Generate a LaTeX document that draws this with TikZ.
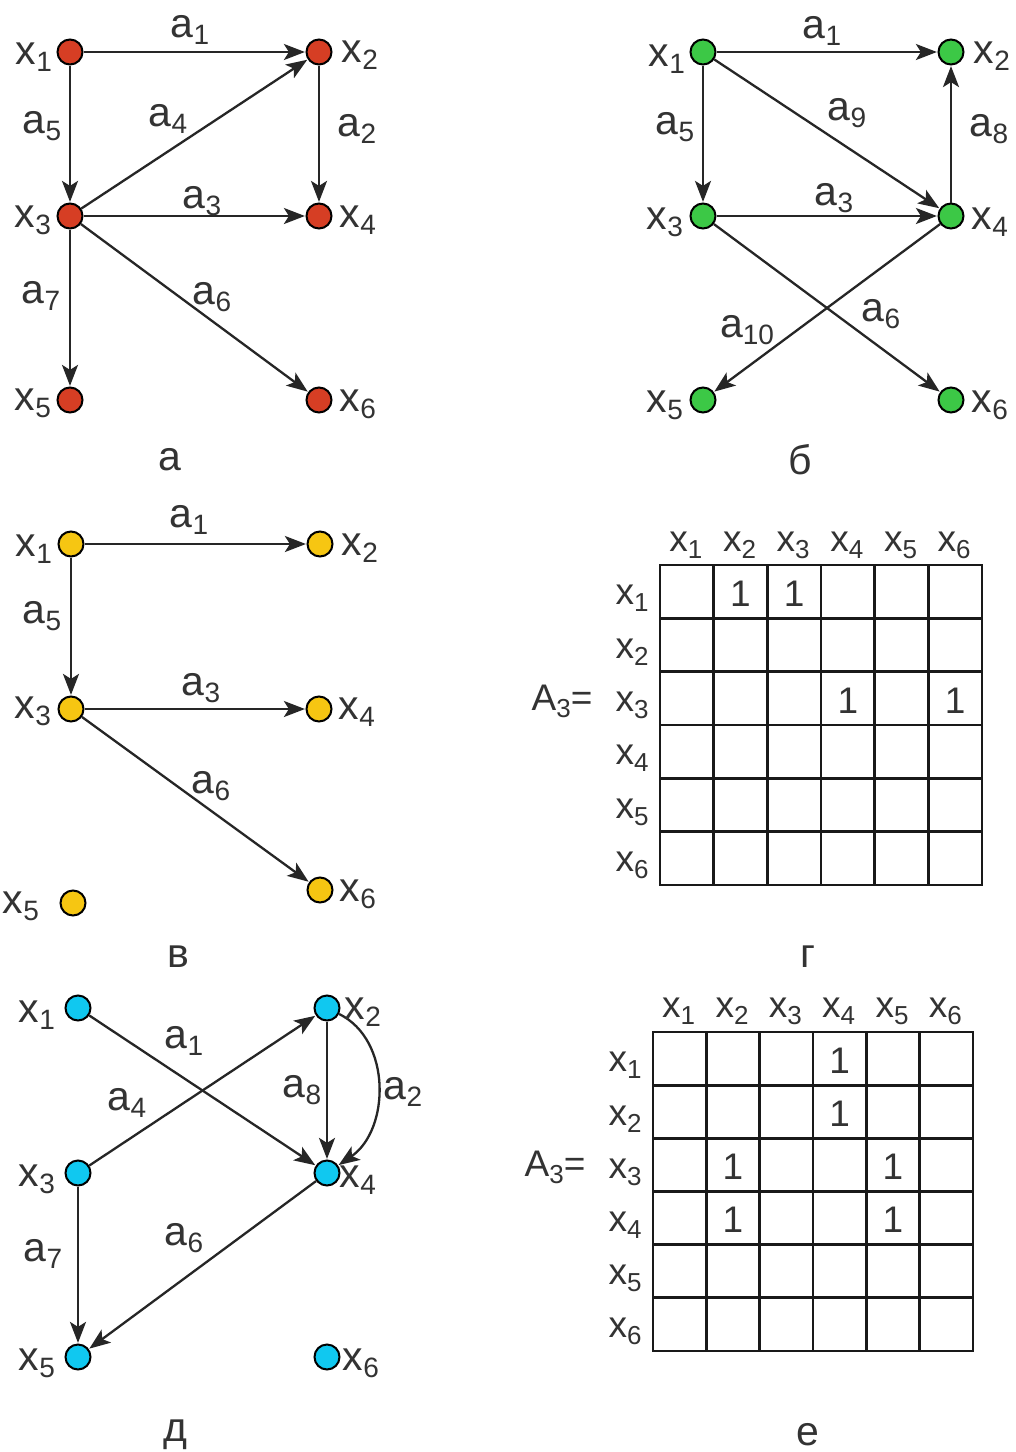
\documentclass[tikz,border=0pt]{standalone}
\usepackage{fontspec}
\setmainfont{Liberation Sans}
\usetikzlibrary{arrows.meta}
\definecolor{cred}{RGB}{214,62,36}
\definecolor{cgreen}{RGB}{60,200,70}
\definecolor{cyel}{RGB}{246,198,18}
\definecolor{ccyan}{RGB}{16,200,240}
\newcommand{\sbl}[2]{#1\raisebox{-3.5pt}{\fontsize{14}{14}\selectfont #2}}
\newcommand{\sbm}[2]{#1\raisebox{-3.5pt}{\fontsize{13}{13}\selectfont #2}}
\tikzset{
  vtx/.style={circle,draw=black,line width=1pt,minimum size=12.5pt,inner sep=0pt},
  arr/.style={line width=1.15pt,draw={black!85},-{Stealth[length=10.5pt,width=8pt,inset=2.5pt]},shorten >=0.3pt},
  lbl/.style={inner sep=0pt,font=\fontsize{20.5}{22}\selectfont,text={black!80}},
  mlbl/.style={inner sep=0pt,font=\fontsize{18.5}{20}\selectfont,text={black!80}},
  captxt/.style={inner sep=0pt,font=\fontsize{20.5}{22}\selectfont,text={black!80}},
  gridln/.style={line width=1.4pt,draw={black!90}}
}
\begin{document}
\begin{tikzpicture}[x=0.5pt,y=-0.5pt]
\useasboundingbox[fill=white] (0,0) rectangle (1016,1452);

% ---------- panel a ----------
\node[vtx,fill=cred] (a1) at (70,52) {};
\node[vtx,fill=cred] (a2) at (319,52) {};
\node[vtx,fill=cred] (a3) at (70,216) {};
\node[vtx,fill=cred] (a4) at (319,216) {};
\node[vtx,fill=cred] (a5) at (70,400) {};
\node[vtx,fill=cred] (a6) at (319,400) {};
\draw[arr] (a1) -- (a2);
\draw[arr] (a1) -- (a3);
\draw[arr] (a3) -- (a2);
\draw[arr] (a2) -- (a4);
\draw[arr] (a3) -- (a4);
\draw[arr] (a3) -- (a5);
\draw[arr] (a3) -- (a6);
\node[lbl] (la1) at (34,57) {\sbl{x}{1}};
\node[lbl] (la2) at (360,55) {\sbl{x}{2}};
\node[lbl] (la3) at (33,220) {\sbl{x}{3}};
\node[lbl] (la4) at (358,220) {\sbl{x}{4}};
\node[lbl] (la5) at (33,403) {\sbl{x}{5}};
\node[lbl] (la6) at (358,404) {\sbl{x}{6}};
\node[lbl] (ea1) at (190,30) {\sbl{a}{1}};
\node[lbl] (ea5) at (42,126) {\sbl{a}{5}};
\node[lbl] (ea4) at (168,119) {\sbl{a}{4}};
\node[lbl] (ea2) at (357,129) {\sbl{a}{2}};
\node[lbl] (ea3) at (202,201) {\sbl{a}{3}};
\node[lbl] (ea7) at (41,296) {\sbl{a}{7}};
\node[lbl] (ea6) at (212,297) {\sbl{a}{6}};
\node[captxt] (capa) at (170,460) {а};

% ---------- panel b ----------
\node[vtx,fill=cgreen] (b1) at (703,52) {};
\node[vtx,fill=cgreen] (b2) at (951,52) {};
\node[vtx,fill=cgreen] (b3) at (703,216) {};
\node[vtx,fill=cgreen] (b4) at (951,216) {};
\node[vtx,fill=cgreen] (b5) at (703,400) {};
\node[vtx,fill=cgreen] (b6) at (951,400) {};
\draw[arr] (b1) -- (b2);
\draw[arr] (b1) -- (b3);
\draw[arr] (b1) -- (b4);
\draw[arr] (b3) -- (b4);
\draw[arr] (b4) -- (b2);
\draw[arr] (b3) -- (b6);
\draw[arr] (b4) -- (b5);
\node[lbl] (lb1) at (667,59) {\sbl{x}{1}};
\node[lbl] (lb2) at (992,56) {\sbl{x}{2}};
\node[lbl] (lb3) at (665,222) {\sbl{x}{3}};
\node[lbl] (lb4) at (990,222) {\sbl{x}{4}};
\node[lbl] (lb5) at (665,405) {\sbl{x}{5}};
\node[lbl] (lb6) at (990,405) {\sbl{x}{6}};
\node[lbl] (eb1) at (822,31) {\sbl{a}{1}};
\node[lbl] (eb9) at (847,113) {\sbl{a}{9}};
\node[lbl] (eb5) at (675,127) {\sbl{a}{5}};
\node[lbl] (eb8) at (989,129) {\sbl{a}{8}};
\node[lbl] (eb3) at (834,198) {\sbl{a}{3}};
\node[lbl] (eb10) at (747,330) {\sbl{a}{10}};
\node[lbl] (eb6) at (881,314) {\sbl{a}{6}};
\node[captxt] (capb) at (800,460) {б};

% ---------- panel v ----------
\node[vtx,fill=cyel] (c1) at (71,544) {};
\node[vtx,fill=cyel] (c2) at (320,544) {};
\node[vtx,fill=cyel] (c3) at (71,709) {};
\node[vtx,fill=cyel] (c4) at (319,709) {};
\node[vtx,fill=cyel] (c5) at (73,903) {};
\node[vtx,fill=cyel] (c6) at (320,890) {};
\draw[arr] (c1) -- (c2);
\draw[arr] (c1) -- (c3);
\draw[arr] (c3) -- (c4);
\draw[arr] (c3) -- (c6);
\node[lbl] (lc1) at (34,549) {\sbl{x}{1}};
\node[lbl] (lc2) at (360,548) {\sbl{x}{2}};
\node[lbl] (lc3) at (33,711) {\sbl{x}{3}};
\node[lbl] (lc4) at (357,712) {\sbl{x}{4}};
\node[lbl] (lc5) at (21,906) {\sbl{x}{5}};
\node[lbl] (lc6) at (358,894) {\sbl{x}{6}};
\node[lbl] (ec1) at (189,520) {\sbl{a}{1}};
\node[lbl] (ec5) at (42,616) {\sbl{a}{5}};
\node[lbl] (ec3) at (201,688) {\sbl{a}{3}};
\node[lbl] (ec6) at (211,786) {\sbl{a}{6}};
\node[captxt] (capc) at (178,957) {в};

% ---------- panel d ----------
\node[vtx,fill=ccyan] (d1) at (78,1008) {};
\node[vtx,fill=ccyan] (d2) at (327,1008) {};
\node[vtx,fill=ccyan] (d3) at (78,1173) {};
\node[vtx,fill=ccyan] (d4) at (327,1173) {};
\node[vtx,fill=ccyan] (d5) at (78,1357) {};
\node[vtx,fill=ccyan] (d6) at (327,1357) {};
\draw[arr] (d1) -- (d4);
\draw[arr] (d3) -- (d2);
\draw[arr] (d2) -- (d4);
\draw[arr] (d2) .. controls (392,1040) and (390,1130) .. (d4);
\draw[arr] (d3) -- (d5);
\draw[arr] (d4) -- (d5);
\node[lbl] (ld1) at (37,1015) {\sbl{x}{1}};
\node[lbl] (ld2) at (363,1012) {\sbl{x}{2}};
\node[lbl] (ld3) at (37,1179) {\sbl{x}{3}};
\node[lbl] (ld4) at (358,1180) {\sbl{x}{4}};
\node[lbl] (ld5) at (37,1363) {\sbl{x}{5}};
\node[lbl] (ld6) at (361,1363) {\sbl{x}{6}};
\node[lbl] (ed1) at (184,1041) {\sbl{a}{1}};
\node[lbl] (ed4) at (127,1103) {\sbl{a}{4}};
\node[lbl] (ed8) at (302,1090) {\sbl{a}{8}};
\node[lbl] (ed2) at (403,1092) {\sbl{a}{2}};
\node[lbl] (ed7) at (43,1254) {\sbl{a}{7}};
\node[lbl] (ed6) at (184,1238) {\sbl{a}{6}};
\node[captxt] (capd) at (175,1435) {д};

% ---------- matrix g ----------
\draw[gridln] (660,565) rectangle (982,885);
\foreach \i in {1,...,5} {
  \draw[gridln] ({660+\i*322/6},565) -- ({660+\i*322/6},885);
  \draw[gridln] (660,{565+\i*320/6}) -- (982,{565+\i*320/6});
}
\foreach \i in {1,...,6} {
  \node[mlbl] (gh\i) at ({660+(\i-0.5)*322/6-1},545) {\sbm{x}{\i}};
  \node[mlbl] (gr\i) at (632,{565+(\i-0.5)*320/6+7}) {\sbm{x}{\i}};
}
\node[mlbl] (gA) at (562,701) {\sbm{A}{3}=};
\foreach \r/\c in {1/2,1/3,3/4,3/6} {
  \node[mlbl] (g\r\c) at ({660+(\c-0.5)*322/6},{565+(\r-0.5)*320/6+2}) {1};
}
\node[captxt] (capg) at (808,957) {г};

% ---------- matrix e ----------
\draw[gridln] (653,1032) rectangle (973,1351);
\foreach \i in {1,...,5} {
  \draw[gridln] ({653+\i*320/6},1032) -- ({653+\i*320/6},1351);
  \draw[gridln] (653,{1032+\i*319/6}) -- (973,{1032+\i*319/6});
}
\foreach \i in {1,...,6} {
  \node[mlbl] (eh\i) at ({653+(\i-0.5)*320/6-1},1011) {\sbm{x}{\i}};
  \node[mlbl] (er\i) at (625,{1032+(\i-0.5)*319/6+7}) {\sbm{x}{\i}};
}
\node[mlbl] (eA) at (555,1167) {\sbm{A}{3}=};
\foreach \r/\c in {1/4,2/4,3/2,3/5,4/2,4/5} {
  \node[mlbl] (e\r\c) at ({653+(\c-0.5)*320/6},{1032+(\r-0.5)*319/6+2}) {1};
}
\node[captxt] (cape) at (808,1435) {е};
\end{tikzpicture}
\end{document}
